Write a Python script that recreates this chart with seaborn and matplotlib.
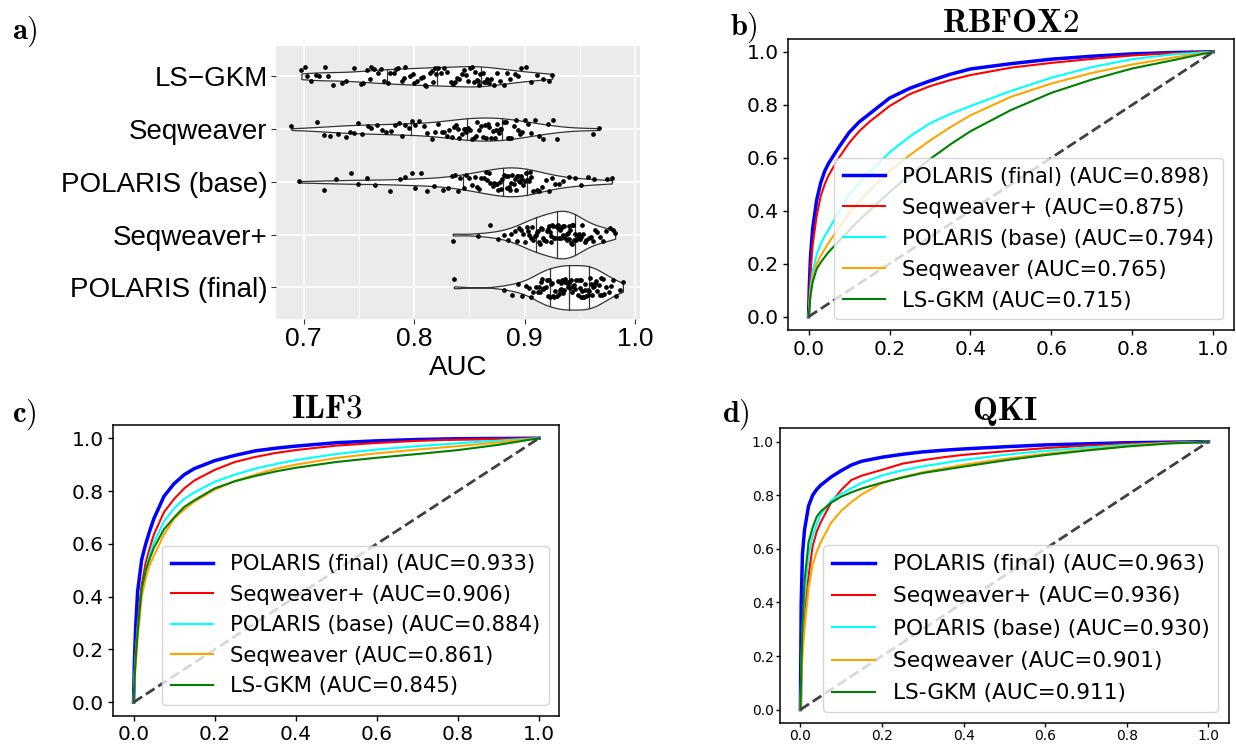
import numpy as np
import pandas as pd
import matplotlib
matplotlib.use("Agg")
import matplotlib.pyplot as plt
import seaborn as sns

plt.rcParams["mathtext.fontset"] = "cm"
plt.rcParams["axes.linewidth"] = 1.1

# ---------------- panel a: per-RBP AUC distributions ----------------
MODELS = ["LS-GKM", "Seqweaver", "POLARIS (base)", "Seqweaver+", "POLARIS (final)"]
MODEL_TICKS = ["LS\u2212GKM", "Seqweaver", "POLARIS (base)", "Seqweaver+", "POLARIS (final)"]

AUC_LSGKM = [0.698, 0.701, 0.703, 0.707, 0.711, 0.714, 0.719, 0.722, 0.727, 0.735, 0.738,
             0.746, 0.752, 0.754, 0.757, 0.760, 0.761, 0.764, 0.767, 0.770, 0.773,
             0.776, 0.778, 0.782, 0.784, 0.785, 0.789, 0.791, 0.792, 0.796, 0.799, 0.800,
             0.803, 0.806, 0.808, 0.810, 0.811, 0.814, 0.816, 0.817, 0.819, 0.820,
             0.822, 0.824, 0.827, 0.830, 0.833, 0.835, 0.837, 0.839, 0.841, 0.843, 0.845,
             0.847, 0.849, 0.851, 0.852, 0.854, 0.855, 0.857, 0.858, 0.859, 0.860,
             0.862, 0.863, 0.865, 0.866, 0.868, 0.870, 0.872, 0.875, 0.878, 0.881, 0.884,
             0.887, 0.891, 0.894, 0.897, 0.901, 0.906, 0.911, 0.917, 0.922, 0.925]

AUC_SEQWEAVER = [0.689, 0.712, 0.718, 0.724, 0.731, 0.738, 0.742, 0.746, 0.749, 0.753, 0.758,
                 0.761, 0.766, 0.771, 0.775, 0.779, 0.783, 0.786, 0.789, 0.792, 0.795,
                 0.798, 0.801, 0.804, 0.809, 0.812, 0.816, 0.819, 0.822, 0.825, 0.827, 0.830,
                 0.832, 0.834, 0.836, 0.838, 0.840, 0.841, 0.843, 0.845, 0.846, 0.847,
                 0.849, 0.851, 0.852, 0.854, 0.856, 0.857, 0.859, 0.861, 0.862, 0.864, 0.865,
                 0.867, 0.868, 0.870, 0.871, 0.873, 0.874, 0.875, 0.877, 0.878, 0.879,
                 0.881, 0.883, 0.885, 0.886, 0.888, 0.890, 0.892, 0.894, 0.896, 0.898, 0.900,
                 0.903, 0.906, 0.909, 0.913, 0.917, 0.921, 0.926, 0.929, 0.962, 0.967]

AUC_POLARIS_BASE = [0.696, 0.718, 0.729, 0.743, 0.749, 0.757, 0.765, 0.778, 0.787, 0.792,
                    0.798, 0.801, 0.806, 0.812, 0.818, 0.826,
                    0.831, 0.834, 0.837, 0.840, 0.842, 0.845, 0.847, 0.850, 0.852, 0.855,
                    0.857, 0.859, 0.861, 0.863, 0.865, 0.866, 0.868, 0.869,
                    0.871, 0.872, 0.874, 0.875, 0.876, 0.878, 0.879, 0.880, 0.881, 0.883,
                    0.884, 0.885, 0.886, 0.887, 0.888, 0.889, 0.890, 0.891, 0.892, 0.893,
                    0.894, 0.895, 0.896, 0.897, 0.898, 0.899, 0.900, 0.901, 0.902, 0.903,
                    0.904, 0.905, 0.906, 0.908,
                    0.911, 0.913, 0.916, 0.919, 0.922, 0.925, 0.928, 0.931, 0.935, 0.940,
                    0.946, 0.951, 0.957, 0.963, 0.975, 0.979]

AUC_SEQWEAVER_PLUS = [0.835, 0.858, 0.869, 0.876, 0.881, 0.885, 0.888, 0.891, 0.893, 0.895, 0.897,
                      0.899, 0.900, 0.902, 0.903, 0.904, 0.906, 0.907, 0.908, 0.909, 0.910,
                      0.911, 0.912, 0.913, 0.914, 0.915, 0.916, 0.917, 0.918, 0.919, 0.920, 0.921,
                      0.922, 0.923, 0.924, 0.924, 0.925, 0.926, 0.927, 0.928, 0.929, 0.929,
                      0.930, 0.931, 0.932, 0.932, 0.933, 0.934, 0.935, 0.935, 0.936, 0.937, 0.938,
                      0.938, 0.939, 0.940, 0.940, 0.941, 0.942, 0.943, 0.943, 0.944, 0.945,
                      0.946, 0.947, 0.948, 0.949, 0.950, 0.951, 0.952, 0.953, 0.955, 0.956, 0.958,
                      0.960, 0.962, 0.964, 0.966, 0.968, 0.971, 0.974, 0.977, 0.980, 0.982]

AUC_POLARIS_FINAL = [0.836, 0.881, 0.889, 0.894, 0.898, 0.901, 0.904, 0.906, 0.908, 0.910, 0.912,
                     0.913, 0.914, 0.915, 0.916, 0.917, 0.918, 0.919, 0.920, 0.921, 0.922,
                     0.923, 0.924, 0.925, 0.926, 0.927, 0.928, 0.929, 0.930, 0.931, 0.932, 0.933,
                     0.933, 0.934, 0.935, 0.936, 0.937, 0.937, 0.938, 0.939, 0.939, 0.940,
                     0.941, 0.942, 0.943, 0.944, 0.945, 0.946, 0.947, 0.948, 0.949, 0.950, 0.951,
                     0.951, 0.952, 0.953, 0.954, 0.955, 0.955, 0.956, 0.957, 0.957, 0.958,
                     0.959, 0.960, 0.961, 0.962, 0.963, 0.964, 0.965, 0.966, 0.967, 0.968, 0.969,
                     0.970, 0.971, 0.972, 0.974, 0.976, 0.978, 0.980, 0.983, 0.986, 0.989]

AUC_X_TICKS = [0.7, 0.8, 0.9, 1.0]
AUC_X_MINOR = [0.75, 0.85, 0.95]

# ---------------- panels b-d: ROC curves ----------------
ROC_NAMES = ["POLARIS (final)", "Seqweaver+", "POLARIS (base)", "Seqweaver", "LS-GKM"]
ROC_COLORS = ["blue", "red", "cyan", "orange", "green"]
ROC_WIDTHS = [2.5, 1.5, 1.5, 1.5, 1.5]

FPR = [0, 0.002, 0.005, 0.01, 0.02, 0.03, 0.04, 0.05, 0.075, 0.1, 0.125, 0.15,
       0.2, 0.25, 0.3, 0.35, 0.4, 0.5, 0.6, 0.7, 0.8, 0.9, 1.0]
CHANCE = [0.0, 1.0]

RBFOX2_AUC = [0.898, 0.875, 0.794, 0.765, 0.715]
RBFOX2_FINAL = [0, 0.12, 0.23, 0.33, 0.44, 0.505, 0.55, 0.58, 0.64, 0.695, 0.735, 0.765,
                0.825, 0.862, 0.89, 0.915, 0.935, 0.955, 0.972, 0.983, 0.992, 0.997, 1.0]
RBFOX2_SWPLUS = [0, 0.08, 0.17, 0.27, 0.38, 0.455, 0.5, 0.535, 0.6, 0.655, 0.7, 0.735,
                 0.795, 0.84, 0.87, 0.893, 0.912, 0.94, 0.958, 0.973, 0.986, 0.995, 1.0]
RBFOX2_BASE = [0, 0.05, 0.11, 0.17, 0.235, 0.275, 0.305, 0.33, 0.395, 0.46, 0.505, 0.545,
               0.62, 0.68, 0.73, 0.765, 0.795, 0.852, 0.902, 0.942, 0.972, 0.99, 1.0]
RBFOX2_SW = [0, 0.04, 0.09, 0.14, 0.2, 0.23, 0.255, 0.28, 0.335, 0.39, 0.435, 0.475,
             0.55, 0.61, 0.665, 0.715, 0.76, 0.83, 0.88, 0.92, 0.952, 0.978, 1.0]
RBFOX2_GKM = [0, 0.03, 0.08, 0.13, 0.18, 0.205, 0.225, 0.245, 0.285, 0.325, 0.365, 0.4,
              0.47, 0.535, 0.595, 0.65, 0.7, 0.78, 0.845, 0.895, 0.937, 0.968, 1.0]

ILF3_AUC = [0.933, 0.906, 0.884, 0.861, 0.845]
ILF3_FINAL = [0, 0.15, 0.28, 0.42, 0.54, 0.6, 0.65, 0.695, 0.78, 0.828, 0.862, 0.885,
              0.915, 0.935, 0.952, 0.962, 0.97, 0.983, 0.99, 0.995, 0.998, 0.999, 1.0]
ILF3_SWPLUS = [0, 0.1, 0.19, 0.3, 0.445, 0.53, 0.585, 0.635, 0.72, 0.77, 0.81, 0.84,
               0.88, 0.91, 0.929, 0.944, 0.955, 0.972, 0.982, 0.99, 0.995, 0.998, 1.0]
ILF3_BASE = [0, 0.09, 0.17, 0.28, 0.42, 0.5, 0.56, 0.605, 0.685, 0.735, 0.77, 0.795,
             0.835, 0.862, 0.885, 0.902, 0.917, 0.94, 0.957, 0.97, 0.981, 0.991, 1.0]
ILF3_SW = [0, 0.07, 0.14, 0.24, 0.4, 0.47, 0.52, 0.555, 0.635, 0.695, 0.73, 0.76,
           0.805, 0.838, 0.862, 0.884, 0.9, 0.925, 0.943, 0.957, 0.97, 0.984, 1.0]
ILF3_GKM = [0, 0.08, 0.16, 0.27, 0.43, 0.5, 0.545, 0.585, 0.655, 0.7, 0.74, 0.765,
            0.81, 0.837, 0.857, 0.874, 0.888, 0.91, 0.926, 0.94, 0.955, 0.975, 1.0]

QKI_AUC = [0.963, 0.936, 0.930, 0.901, 0.911]
QKI_FINAL = [0, 0.4, 0.58, 0.67, 0.76, 0.8, 0.822, 0.838, 0.868, 0.892, 0.913, 0.927,
             0.942, 0.953, 0.962, 0.968, 0.973, 0.981, 0.988, 0.992, 0.996, 0.998, 1.0]
QKI_SWPLUS = [0, 0.12, 0.25, 0.35, 0.5, 0.61, 0.665, 0.7, 0.772, 0.82, 0.857, 0.873,
              0.895, 0.918, 0.931, 0.942, 0.951, 0.964, 0.976, 0.985, 0.992, 0.997, 1.0]
QKI_BASE = [0, 0.15, 0.3, 0.42, 0.575, 0.65, 0.692, 0.728, 0.78, 0.806, 0.826, 0.846,
            0.874, 0.893, 0.908, 0.92, 0.932, 0.951, 0.966, 0.978, 0.988, 0.995, 1.0]
QKI_SW = [0, 0.1, 0.2, 0.3, 0.455, 0.54, 0.59, 0.625, 0.697, 0.742, 0.775, 0.803,
          0.846, 0.868, 0.886, 0.9, 0.914, 0.936, 0.955, 0.97, 0.984, 0.994, 1.0]
QKI_GKM = [0, 0.15, 0.32, 0.48, 0.625, 0.68, 0.72, 0.74, 0.772, 0.795, 0.811, 0.825,
           0.847, 0.866, 0.883, 0.895, 0.907, 0.93, 0.95, 0.967, 0.982, 0.993, 1.0]

W, H = 1236, 744
fig = plt.figure(figsize=(W / 100, H / 100), dpi=100)


def px_axes(left, top, right, bottom):
    return fig.add_axes([left / W, 1 - bottom / H, (right - left) / W, (bottom - top) / H])


# ---------- panel a ----------
ax_a = px_axes(276, 45.7, 640, 319)
groups = [AUC_LSGKM, AUC_SEQWEAVER, AUC_POLARIS_BASE, AUC_SEQWEAVER_PLUS, AUC_POLARIS_FINAL]
df_a = pd.DataFrame({
    "model": np.repeat(MODELS, [len(g) for g in groups]),
    "AUC": np.concatenate(groups),
})
ax_a.set_facecolor("#EBEBEB")
ax_a.set_axisbelow(True)
sns.violinplot(data=df_a, x="AUC", y="model", order=MODELS, orient="h",
               inner="quart", cut=0, density_norm="area", width=0.9,
               color="white", saturation=1, linecolor="#333333", linewidth=0.9,
               bw_method="silverman", bw_adjust=0.75, ax=ax_a)
for ln in ax_a.lines:
    ln.set_linestyle("-")
np.random.seed(11)
sns.stripplot(data=df_a, x="AUC", y="model", order=MODELS, orient="h",
              jitter=0.19, size=3.4, color="black", linewidth=0, ax=ax_a)
ax_a.set_xlim(0.675, 1.0045)
ax_a.set_ylim(4.6, -0.58)
ax_a.set_xticks(AUC_X_TICKS)
ax_a.set_xticks(AUC_X_MINOR, minor=True)
ax_a.set_xticklabels([f"{v:.1f}" for v in AUC_X_TICKS], fontsize=19,
                     family="Liberation Sans", color="black")
ax_a.set_yticks(range(len(MODELS)))
ax_a.set_yticklabels(MODEL_TICKS, fontsize=20, family="Liberation Sans", color="black")
ax_a.grid(which="major", color="white", linewidth=1.1)
ax_a.grid(which="minor", axis="x", color="white", linewidth=0.55)
ax_a.tick_params(which="major", length=3.5, width=0.8, color="#333333", pad=2.5)
ax_a.tick_params(which="minor", length=0)
for s in ax_a.spines.values():
    s.set_visible(False)
ax_a.set_xlabel("AUC", fontsize=20, family="Liberation Sans", labelpad=3)
ax_a.set_ylabel("")


# ---------- ROC panels ----------
def roc_panel(ax, title, curves, aucs, tick_size, legend_size, spacing,
              title_pad, title_x=0.5, tick_pad=3.5, tick_len=3.5):
    for tpr, name, auc, col, lw in zip(curves, ROC_NAMES, aucs, ROC_COLORS, ROC_WIDTHS):
        sns.lineplot(x=FPR, y=tpr, color=col, linewidth=lw, sort=False,
                     label=f"{name} (AUC={auc:.3f})", ax=ax)
    sns.lineplot(x=CHANCE, y=CHANCE, color="0.25", linewidth=2, linestyle="--", ax=ax)
    ax.set_xlim(-0.05, 1.05)
    ax.set_ylim(-0.05, 1.05)
    ax.set_xticks([0, 0.2, 0.4, 0.6, 0.8, 1.0])
    ax.set_yticks([0, 0.2, 0.4, 0.6, 0.8, 1.0])
    ax.tick_params(labelsize=tick_size, width=1.0, pad=tick_pad, length=tick_len)
    ax.set_title(r"$\mathbf{" + title + "}$", fontsize=24, pad=title_pad, x=title_x)
    ax.legend(loc="lower right", fontsize=legend_size, labelspacing=spacing)


ax_b = px_axes(788.3, 38.5, 1233.6, 330)
roc_panel(ax_b, "RBFOX2",
          [RBFOX2_FINAL, RBFOX2_SWPLUS, RBFOX2_BASE, RBFOX2_SW, RBFOX2_GKM],
          RBFOX2_AUC, 14.5, 15.3, 0.52, 1)

ax_c = px_axes(113.3, 425, 559.3, 715.5)
roc_panel(ax_c, "ILF3",
          [ILF3_FINAL, ILF3_SWPLUS, ILF3_BASE, ILF3_SW, ILF3_GKM],
          ILF3_AUC, 14.5, 15.25, 0.5, 4, title_x=0.478)

ax_d = px_axes(780, 428.3, 1228.9, 723)
roc_panel(ax_d, "QKI",
          [QKI_FINAL, QKI_SWPLUS, QKI_BASE, QKI_SW, QKI_GKM],
          QKI_AUC, 10, 15.6, 0.57, 5, tick_pad=1.5, tick_len=3)

# panel letters
for label, x, y in [("a)", 12, 15), ("b)", 730, 11), ("c)", 12, 398), ("d)", 722, 398)]:
    fig.text(x / W, 1 - y / H, r"$\mathbf{" + label + "}$", fontsize=22, va="top", ha="left")

fig.savefig("out.png", dpi=100)
